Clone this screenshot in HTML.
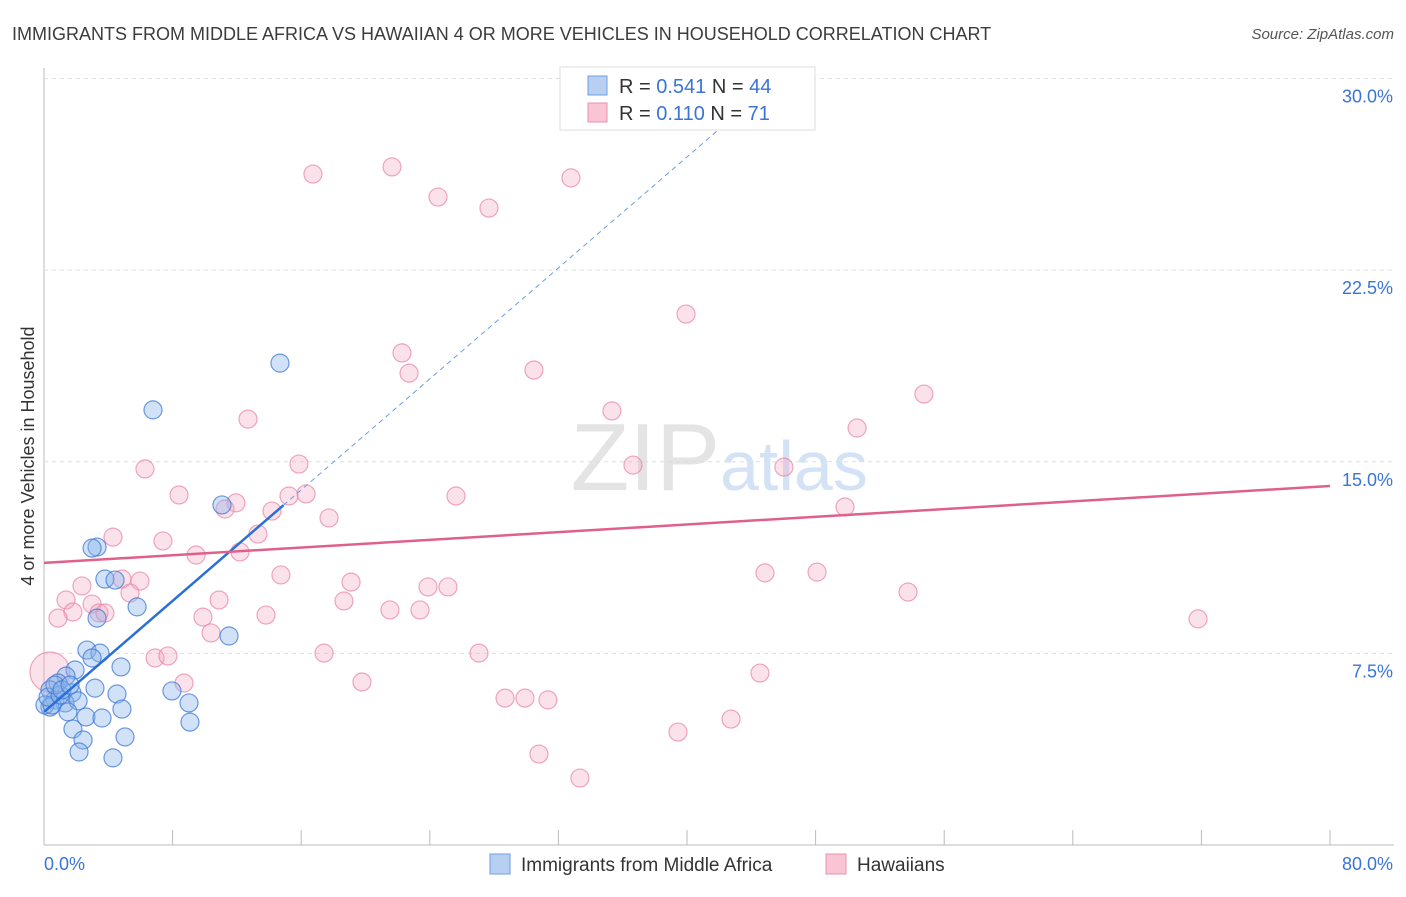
<!DOCTYPE html>
<html><head><meta charset="utf-8"><style>
body{margin:0;background:#fff;font-family:"Liberation Sans",sans-serif}
svg text{font-family:"Liberation Sans",sans-serif}
</style></head><body>
<svg id="c" width="1406" height="892">
<text x="12" y="40" font-size="18" fill="#3c3c3c">IMMIGRANTS FROM MIDDLE AFRICA VS HAWAIIAN 4 OR MORE VEHICLES IN HOUSEHOLD CORRELATION CHART</text>
<text x="1394" y="39" font-size="15" fill="#555" text-anchor="end" font-style="italic">Source: ZipAtlas.com</text>
<text x="34" y="456" font-size="18" fill="#333" text-anchor="middle" transform="rotate(-90 34 456)">4 or more Vehicles in Household</text>
<text x="720" y="490" font-size="96" fill="#e4e4e4" text-anchor="end" font-family="Liberation Serif">ZIP</text>
<text x="720" y="490" font-size="70" fill="#d4e2f6">atlas</text>
<g id="grid"></g><g id="pts"></g><g id="lines"></g>
<g>
<rect x="560" y="67" width="255" height="63" fill="#fff" stroke="#ddd"/>
<rect x="588" y="76" width="19" height="19" fill="#b7d0f2" stroke="#6f9ee0"/>
<rect x="588" y="103" width="19" height="19" fill="#f9c5d4" stroke="#e891ad"/>
<text x="619" y="93" font-size="20" fill="#333">R = <tspan fill="#3a74d6">0.541</tspan>   N = <tspan fill="#3a74d6">44</tspan></text>
<text x="619" y="120" font-size="20" fill="#333">R =  <tspan fill="#3a74d6">0.110</tspan>   N =   <tspan fill="#3a74d6">71</tspan></text>
</g>
<g>
<rect x="490" y="854" width="20" height="20" fill="#b7d0f2" stroke="#6f9ee0"/>
<text x="521" y="871" font-size="19" fill="#333">Immigrants from Middle Africa</text>
<rect x="826" y="854" width="20" height="20" fill="#f9c5d4" stroke="#e891ad"/>
<text x="857" y="871" font-size="19" fill="#333">Hawaiians</text>
</g>
</svg>
<script>
const yTicks=[7.5,15,22.5,30];
const yTickLabels=["7.5%","15.0%","22.5%","30.0%"];
const xTicks=[0,8,16,24,32,40,48,56,64,72,80];
const blueX=[6.78,14.68,11.07,3.30,2.99,3.79,4.42,5.79,3.30,11.51,2.67,3.48,2.99,4.79,1.93,1.37,0.87,3.17,0.37,1.74,4.54,7.96,0.68,1.31,2.12,9.02,4.85,0.37,1.49,2.61,3.61,1.80,9.08,2.43,5.04,2.18,4.29,0.06,0.50,0.25,1.00,0.68,1.12,1.62];
const blueY=[17.03,18.86,13.31,11.66,11.62,10.41,10.37,9.32,8.88,8.18,7.63,7.51,7.32,6.97,6.85,6.61,6.34,6.14,6.07,5.95,5.91,6.03,5.68,5.56,5.64,5.56,5.32,5.40,5.21,5.01,4.97,4.54,4.81,4.11,4.23,3.64,3.41,5.48,5.48,5.79,5.87,6.26,6.07,6.26];
const pinkX=[16.73,21.65,24.51,27.68,32.78,39.94,22.27,22.71,30.48,35.33,54.74,50.58,12.69,6.28,15.86,36.64,46.03,8.40,11.94,16.30,15.24,25.63,11.26,14.18,17.73,49.83,4.29,7.40,13.31,9.46,12.19,14.74,44.85,48.09,19.10,23.89,25.13,53.75,2.36,4.85,5.97,5.35,1.37,2.99,10.89,18.66,21.52,23.39,1.80,3.42,0.87,3.79,9.89,13.81,10.39,71.79,17.42,27.06,6.91,7.71,8.71,19.78,44.54,28.68,29.92,31.35,42.74,39.44,30.79,33.34,0.37];
const pinkY=[26.26,26.54,25.36,24.93,26.11,20.78,19.26,18.47,18.59,16.99,17.65,16.32,16.67,14.72,14.91,14.87,14.79,13.70,13.39,13.74,13.66,13.66,13.15,13.07,12.80,13.23,12.05,11.90,12.17,11.35,11.47,10.57,10.65,10.68,10.29,10.10,10.10,9.90,10.14,10.41,10.33,9.86,9.59,9.43,9.59,9.55,9.20,9.20,9.12,9.08,8.88,9.08,8.92,9.00,8.30,8.85,7.51,7.51,7.32,7.40,6.34,6.38,6.73,5.75,5.75,5.68,4.93,4.42,3.56,2.62,6.77];
const blueFit=[5.21,0.543];
const pinkFit=[11.04,14.05];
const NS="http://www.w3.org/2000/svg";
const sx=v=>44+v*16.075, sy=v=>845-v*25.55;
function mk(t,a,p){const e=document.createElementNS(NS,t);for(const k in a)e.setAttribute(k,a[k]);p.appendChild(e);return e;}
const grid=document.getElementById('grid'),pts=document.getElementById('pts'),lines=document.getElementById('lines');
mk('line',{x1:44,y1:68,x2:44,y2:845,stroke:'#bbb'},grid);
mk('line',{x1:44,y1:845,x2:1394,y2:845,stroke:'#bbb'},grid);
yTicks.forEach((t,i)=>{
 const g=mk('line',{x1:44,y1:sy(t),x2:1394,y2:sy(t),stroke:'#ddd','stroke-dasharray':'4 4'},grid);
 
 
 const tx=mk('text',{x:1393,y:sy(t)+24,'font-size':18,fill:'#3a74d6','text-anchor':'end'},grid);
 tx.textContent=yTickLabels[i];
 
 
});
xTicks.forEach(t=>{
 const l=mk('line',{x1:sx(t),y1:830,x2:sx(t),y2:845,stroke:'#bbb'},grid);
 
 
});
const xl0=mk('text',{x:44,y:870,'font-size':18,fill:'#3a74d6'},grid);xl0.textContent='0.0%';


const xl1=mk('text',{x:1393,y:870,'font-size':18,fill:'#3a74d6','text-anchor':'end'},grid);xl1.textContent='80.0%';


pinkX.forEach((x,i)=>{
 const r=i===pinkX.length-1?20:9;
 const c=mk('circle',{cx:sx(x),cy:sy(pinkY[i]),r:r,fill:'rgba(244,168,192,0.35)',stroke:'rgba(232,130,165,0.7)','stroke-width':1.2},pts);
 
 
});
blueX.forEach((x,i)=>{
 const c=mk('circle',{cx:sx(x),cy:sy(blueY[i]),r:9,fill:'rgba(140,180,235,0.4)',stroke:'rgba(60,120,215,0.75)','stroke-width':1.2},pts);
 
 
});
const bx1=14.9, bxEnd=(30-blueFit[0])/blueFit[1];
const bl=mk('line',{x1:sx(0),y1:sy(blueFit[0]),x2:sx(bx1),y2:sy(blueFit[0]+blueFit[1]*bx1),stroke:'#2a6fd8','stroke-width':2.5},lines);


const bd=mk('line',{x1:sx(bx1),y1:sy(blueFit[0]+blueFit[1]*bx1),x2:sx(bxEnd),y2:sy(30),stroke:'#6a9ee6','stroke-width':1,'stroke-dasharray':'5 4'},lines);


const pl=mk('line',{x1:sx(0),y1:sy(pinkFit[0]),x2:sx(80),y2:sy(pinkFit[1]),stroke:'#e0608c','stroke-width':2.5},lines);


</script>
</body></html>
